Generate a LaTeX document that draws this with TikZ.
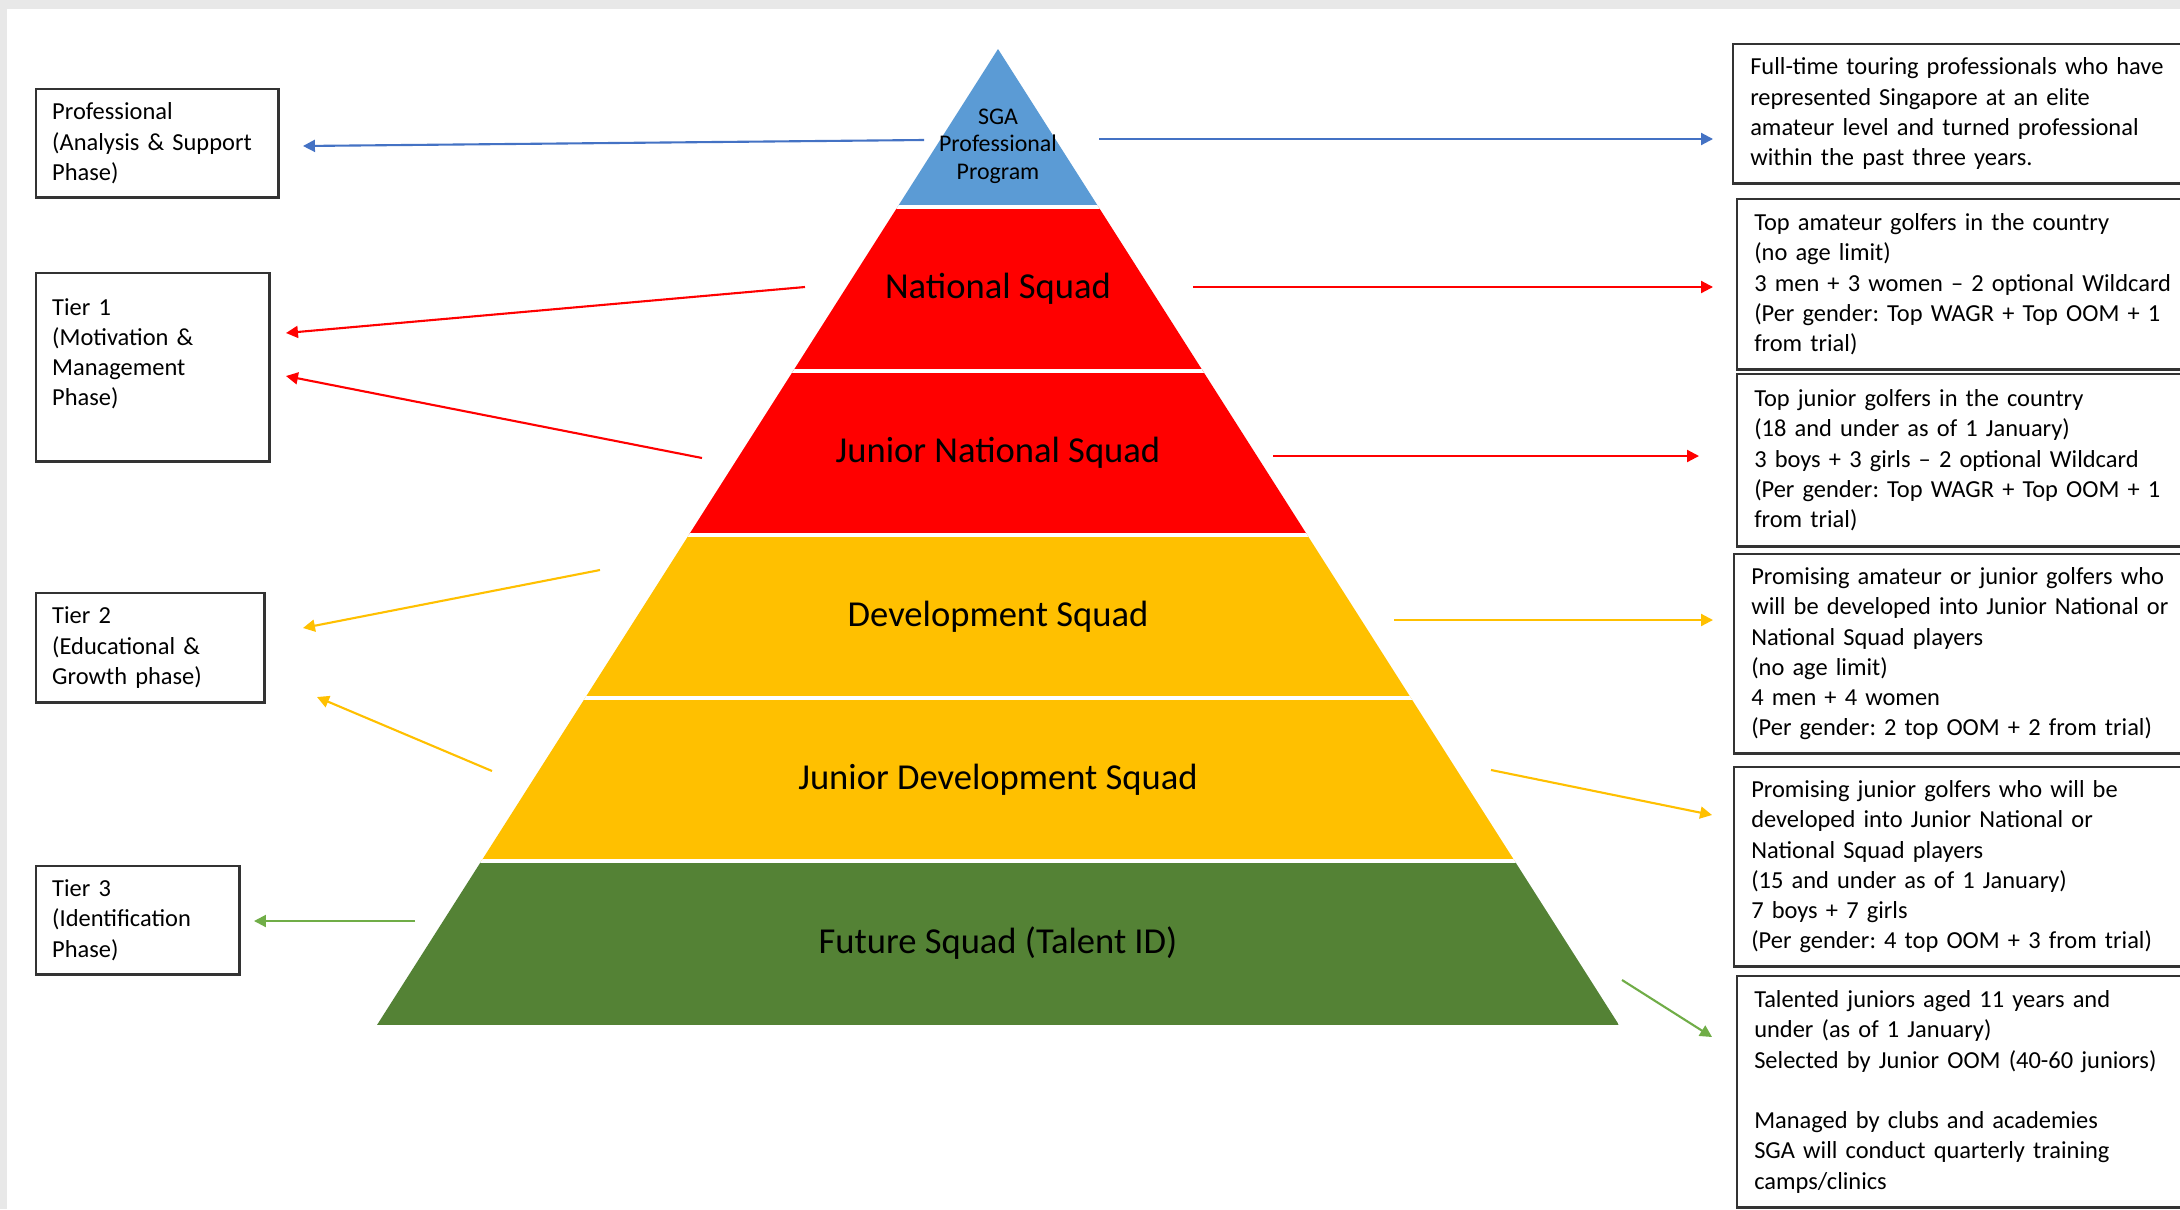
\documentclass[tikz,border=0pt]{standalone}
\usepackage{fontspec}
\setmainfont{Carlito}
\usetikzlibrary{positioning}
\usetikzlibrary{arrows.meta}
\definecolor{bandblue}{HTML}{5B9BD5}
\definecolor{bandred}{HTML}{FF0000}
\definecolor{bandyellow}{HTML}{FFC000}
\definecolor{bandgreen}{HTML}{548235}
\definecolor{arrblue}{HTML}{4472C4}
\definecolor{arrgreen}{HTML}{70AD47}
\definecolor{pagegray}{HTML}{E8E8E8}
\newcommand{\boxfont}{\fontsize{6.95pt}{8.6pt}\selectfont}
\frenchspacing
\tikzset{
    phasebox/.style = {rectangle, draw=black!80, line width=0.7pt, anchor=north west, align=left, inner xsep=0.16cm, inner ysep=0pt, font=\boxfont},
    infobox/.style = {phasebox, text width=4.6cm, inner xsep=0.17cm},
    bandlabel/.style = {align=center, font=\fontsize{10.4pt}{12pt}\selectfont, text=black},
    toplabel/.style = {align=center, font=\fontsize{6.8pt}{7.8pt}\selectfont, text=black, inner sep=0pt},
    tip/.style = {-{Triangle[length=3.4pt,width=3.4pt]}, line width=0.6pt},
    arrb/.style = {tip, arrblue},
    arrr/.style = {tip, bandred},
    arry/.style = {tip, bandyellow},
    arrg/.style = {tip, arrgreen}
}

\begin{document}
\begin{tikzpicture}[x=0.01cm, y=-0.01cm]
\useasboundingbox (0,0) rectangle (2180,1209);
\clip (0,0) rectangle (2180,1209);
\fill[white] (0,0) rectangle (2180,1209);
\fill[pagegray] (0,0) rectangle (2180,9);
\fill[pagegray] (0,0) rectangle (7,1209);

% pyramid bands
\begin{scope}
\clip (998,49) -- (377,1025) -- (1619,1025) -- cycle;
\fill[bandblue] (377,49) rectangle (1619,207);
\fill[bandred] (377,207) rectangle (1619,535);
\fill[bandyellow] (377,535) rectangle (1619,861);
\fill[bandgreen] (377,861) rectangle (1619,1025);
\draw[white, line width=1pt] (377,207) -- (1619,207) (377,371) -- (1619,371) (377,535) -- (1619,535)
    (377,698) -- (1619,698) (377,861) -- (1619,861);
\end{scope}

\node[toplabel] at (998,146) (sga) {SGA\\Professional\\Program};
\node[bandlabel] at (998,289) (nat) {National Squad};
\node[bandlabel] at (998,453) (jrnat) {Junior National Squad};
\node[bandlabel] at (998,617) (dev) {Development Squad};
\node[bandlabel] at (998,780) (jrdev) {Junior Development Squad};
\node[bandlabel] at (998,943) (future) {Future Squad (Talent ID)};

% phases on the left
\node[phasebox, text width=2.10cm, minimum height=1.08cm] at (35,88) (pro) {Professional\\(Analysis \& Support\\Phase)};
\node[phasebox, text width=2.01cm, minimum height=1.88cm] at (35,272) (tierone) {Tier 1\\(Motivation \&\\Management\\Phase)\\\mbox{}};
\node[phasebox, text width=1.96cm, minimum height=1.09cm] at (35,592) (tiertwo) {Tier 2\\(Educational \&\\Growth phase)};
\node[phasebox, text width=1.71cm, minimum height=1.08cm] at (35,865) (tierthree) {Tier 3\\(Identification\\Phase)};

% squad details on the right
\node[infobox, minimum height=1.39cm] at (1732,43) (proinfo) {Full-time touring professionals who have\\represented Singapore at an elite\\amateur level and turned professional\\within the past three years.};
\node[infobox, minimum height=1.70cm] at (1736,198) (natinfo) {Top amateur golfers in the country\\(no age limit)\\3 men + 3 women -- 2 optional Wildcard\\(Per gender: Top WAGR + Top OOM + 1\\from trial)};
\node[infobox, minimum height=1.72cm] at (1736,373) (jrnatinfo) {Top junior golfers in the country\\(18 and under as of 1 January)\\3 boys + 3 girls -- 2 optional Wildcard\\(Per gender: Top WAGR + Top OOM + 1\\from trial)};
\node[infobox, minimum height=1.99cm] at (1733,553) (devinfo) {Promising amateur or junior golfers who\\will be developed into Junior National or\\National Squad players\\(no age limit)\\4 men + 4 women\\(Per gender: 2 top OOM + 2 from trial)};
\node[infobox, minimum height=1.99cm] at (1733,766) (jrdevinfo) {Promising junior golfers who will be\\developed into Junior National or\\National Squad players\\(15 and under as of 1 January)\\7 boys + 7 girls\\(Per gender: 4 top OOM + 3 from trial)};
\node[infobox, minimum height=2.31cm] at (1736,975) (futureinfo) {Talented juniors aged 11 years and\\under (as of 1 January)\\Selected by Junior OOM (40-60 juniors)\\\mbox{}\\Managed by clubs and academies\\SGA will conduct quarterly training\\camps/clinics};

% arrow ends
\coordinate (sga-l) at (924,140);   \coordinate (pro-r) at (303,146);
\coordinate (sga-r) at (1099,139);  \coordinate (proinfo-l) at (1713,139);
\coordinate (nat-l) at (805,287);   \coordinate (tierone-a) at (286,333);
\coordinate (jrnat-l) at (702,458); \coordinate (tierone-b) at (286,376);
\coordinate (nat-r) at (1193,287);  \coordinate (natinfo-l) at (1713,287);
\coordinate (jrnat-r) at (1273,456); \coordinate (jrnatinfo-l) at (1699,456);
\coordinate (dev-l) at (600,570);   \coordinate (tiertwo-a) at (303,628);
\coordinate (jrdev-l) at (492,771); \coordinate (tiertwo-b) at (317,697);
\coordinate (dev-r) at (1394,620);  \coordinate (devinfo-l) at (1713,620);
\coordinate (jrdev-r) at (1491,770); \coordinate (jrdevinfo-l) at (1712,815);
\coordinate (future-l) at (415,921); \coordinate (tierthree-r) at (254,921);
\coordinate (future-r) at (1622,980); \coordinate (futureinfo-l) at (1712,1037);

\draw[arrb] (sga-l) -- (pro-r);
\draw[arrb] (sga-r) -- (proinfo-l);
\draw[arrr] (nat-l) -- (tierone-a);
\draw[arrr] (jrnat-l) -- (tierone-b);
\draw[arrr] (nat-r) -- (natinfo-l);
\draw[arrr] (jrnat-r) -- (jrnatinfo-l);
\draw[arry] (dev-l) -- (tiertwo-a);
\draw[arry] (jrdev-l) -- (tiertwo-b);
\draw[arry] (dev-r) -- (devinfo-l);
\draw[arry] (jrdev-r) -- (jrdevinfo-l);
\draw[arrg] (future-l) -- (tierthree-r);
\draw[arrg] (future-r) -- (futureinfo-l);
\end{tikzpicture}
\end{document}
